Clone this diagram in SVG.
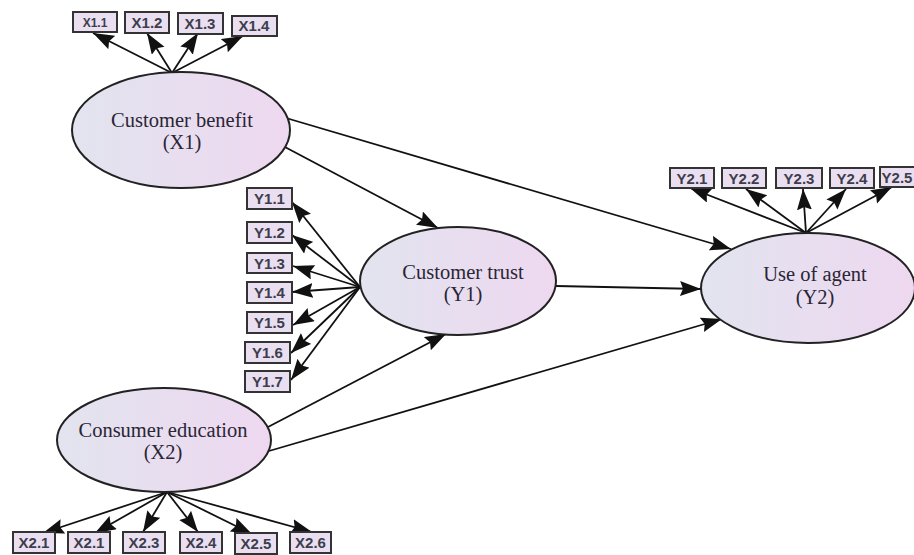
<svg xmlns="http://www.w3.org/2000/svg" width="914" height="555" viewBox="0 0 914 555">
<defs>
<linearGradient id="eg" x1="0" y1="0" x2="1" y2="0">
<stop offset="0" stop-color="#e2e4ef"/>
<stop offset="1" stop-color="#eed8f0"/>
</linearGradient>
<marker id="ah" markerUnits="userSpaceOnUse" markerWidth="22" markerHeight="16" refX="21" refY="7.5" orient="auto">
<path d="M0,0 L21,7.5 L0,15 L3,7.5 z" fill="#111"/>
</marker>
<style>
.c line{stroke:#111;stroke-width:1.8;marker-end:url(#ah);fill:none}
.e{fill:url(#eg);stroke:#222;stroke-width:2}
.et{font-family:"Liberation Serif","Times New Roman",serif;font-size:20.5px;fill:#2b2535;text-anchor:middle}
.b{fill:#e9dff0;stroke:#333;stroke-width:2}
.bt{font-family:"Liberation Sans",Arial,sans-serif;font-size:15px;font-weight:bold;fill:#3d3d4c;text-anchor:middle}
</style>
</defs>
<rect width="914" height="555" fill="#fff"/>
<g id="connectors" class="c">
<line x1="286" y1="118" x2="731" y2="249"/>
<line x1="283" y1="146" x2="438" y2="228"/>
<line x1="556" y1="286" x2="701" y2="289"/>
<line x1="268" y1="427" x2="446" y2="334"/>
<line x1="269" y1="451" x2="722" y2="319"/>
<line x1="172" y1="73" x2="93" y2="33"/>
<line x1="172" y1="73" x2="147" y2="33"/>
<line x1="172" y1="73" x2="198" y2="33"/>
<line x1="172" y1="73" x2="243" y2="36"/>
<line x1="360" y1="287" x2="292" y2="202"/>
<line x1="360" y1="287" x2="292" y2="235"/>
<line x1="360" y1="287" x2="293" y2="266"/>
<line x1="360" y1="287" x2="292" y2="292"/>
<line x1="360" y1="287" x2="293" y2="325"/>
<line x1="360" y1="287" x2="291" y2="353"/>
<line x1="360" y1="287" x2="291" y2="380"/>
<line x1="806" y1="233" x2="690" y2="188"/>
<line x1="806" y1="233" x2="746" y2="189"/>
<line x1="806" y1="233" x2="803" y2="189"/>
<line x1="806" y1="233" x2="846" y2="189"/>
<line x1="806" y1="233" x2="892" y2="187"/>
<line x1="167" y1="492" x2="43" y2="533"/>
<line x1="167" y1="492" x2="95" y2="533"/>
<line x1="167" y1="492" x2="143" y2="532"/>
<line x1="167" y1="492" x2="198" y2="532"/>
<line x1="167" y1="492" x2="252" y2="534"/>
<line x1="167" y1="492" x2="312" y2="532"/>
</g>
<g id="X1">
<ellipse class="e" cx="181" cy="130" rx="109" ry="58"/>
<text class="et" x="182" y="127">Customer benefit</text>
<text class="et" x="182" y="149">(X1)</text>
</g>
<g id="Y1">
<ellipse class="e" cx="458" cy="281" rx="98" ry="54"/>
<text class="et" x="463" y="279">Customer trust</text>
<text class="et" x="463" y="301">(Y1)</text>
</g>
<g id="Y2">
<ellipse class="e" cx="808" cy="288" rx="107" ry="55"/>
<text class="et" x="815" y="281">Use of agent</text>
<text class="et" x="815" y="304">(Y2)</text>
</g>
<g id="X2">
<ellipse class="e" cx="164" cy="440" rx="107" ry="52"/>
<text class="et" x="163" y="437">Consumer education</text>
<text class="et" x="163" y="459">(X2)</text>
</g>
<g id="X1.1"><rect class="b" x="73" y="12" width="44" height="20"/><text class="bt" x="95" y="27" style="font-size:12px">X1.1</text></g>
<g id="X1.2"><rect class="b" x="125" y="12" width="44" height="21"/><text class="bt" x="147" y="28">X1.2</text></g>
<g id="X1.3"><rect class="b" x="178" y="13" width="45" height="21"/><text class="bt" x="200" y="29">X1.3</text></g>
<g id="X1.4"><rect class="b" x="232" y="16" width="45" height="20"/><text class="bt" x="254" y="31">X1.4</text></g>
<g id="Y1.1"><rect class="b" x="247" y="188" width="45" height="21"/><text class="bt" x="269.5" y="204">Y1.1</text></g>
<g id="Y1.2"><rect class="b" x="247" y="222" width="45" height="21"/><text class="bt" x="269.5" y="238">Y1.2</text></g>
<g id="Y1.3"><rect class="b" x="247" y="253" width="45" height="20"/><text class="bt" x="269.5" y="268.5">Y1.3</text></g>
<g id="Y1.4"><rect class="b" x="247" y="282" width="45" height="21"/><text class="bt" x="269.5" y="298">Y1.4</text></g>
<g id="Y1.5"><rect class="b" x="247" y="312" width="45" height="21"/><text class="bt" x="269.5" y="328">Y1.5</text></g>
<g id="Y1.6"><rect class="b" x="245" y="342" width="45" height="21"/><text class="bt" x="267.5" y="358">Y1.6</text></g>
<g id="Y1.7"><rect class="b" x="245" y="371" width="45" height="21"/><text class="bt" x="267.5" y="387">Y1.7</text></g>
<g id="Y2.1"><rect class="b" x="670" y="168" width="44" height="20"/><text class="bt" x="692" y="183.5">Y2.1</text></g>
<g id="Y2.2"><rect class="b" x="722" y="168" width="44" height="20"/><text class="bt" x="744" y="183.5">Y2.2</text></g>
<g id="Y2.3"><rect class="b" x="776" y="168" width="46" height="20"/><text class="bt" x="799" y="183.5">Y2.3</text></g>
<g id="Y2.4"><rect class="b" x="830" y="168" width="44" height="20"/><text class="bt" x="852" y="183.5">Y2.4</text></g>
<g id="Y2.5"><rect class="b" x="880" y="167" width="44" height="20"/><text class="bt" x="897" y="182.5">Y2.5</text></g>
<g id="X2.1a"><rect class="b" x="13" y="532" width="42" height="21"/><text class="bt" x="34" y="548">X2.1</text></g>
<g id="X2.1b"><rect class="b" x="68" y="532" width="42" height="21"/><text class="bt" x="89" y="548">X2.1</text></g>
<g id="X2.3"><rect class="b" x="123" y="532" width="42" height="21"/><text class="bt" x="144" y="548">X2.3</text></g>
<g id="X2.4"><rect class="b" x="180" y="532" width="42" height="21"/><text class="bt" x="201" y="548">X2.4</text></g>
<g id="X2.5"><rect class="b" x="235" y="533" width="42" height="21"/><text class="bt" x="256" y="549">X2.5</text></g>
<g id="X2.6"><rect class="b" x="290" y="532" width="41" height="21"/><text class="bt" x="310.5" y="548">X2.6</text></g>
</svg>
